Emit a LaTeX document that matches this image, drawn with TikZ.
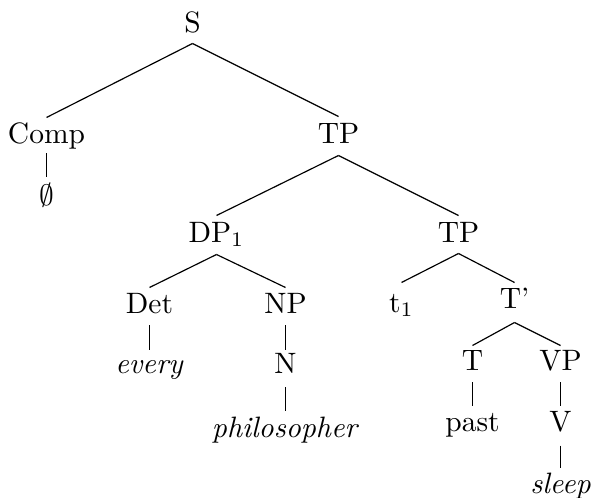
\documentclass[tikz,border=0pt]{standalone}
\usetikzlibrary{calc}
\tikzset{
  lbl/.style={inner sep=0pt, anchor=base},
  branch/.style={draw=black, line width=0.4pt}
}
\newcommand\tedge[4]{\draw[branch] ($(#1.base)+(0,#2)$) -- ($(#3.base)+(0,-#4)$);}
\begin{document}
\begin{tikzpicture}[x=0.339pt, y=-0.339pt]
\useasboundingbox (-0.5,-0.5) rectangle (590.5,497.5);
\node[lbl] (S) at (192,32) {S};
\node[lbl] (Comp) at (46,143) {Comp};
\node[lbl] (TP) at (338,143) {TP};
\node[lbl] (E) at (46,205) {$\emptyset$};
\node[lbl] (DP) at (216,242) {DP$_1$};
\node[lbl] (TPb) at (458,242) {TP};
\node[lbl] (Det) at (149,313) {Det};
\node[lbl] (NP) at (285,313) {NP};
\node[lbl] (t) at (401,312) {t$_1$};
\node[lbl] (Tbar) at (514,308) {T'};
\node[lbl] (every) at (149,373) {\textit{every}};
\node[lbl] (N) at (285,373) {N};
\node[lbl] (T) at (472,370) {T};
\node[lbl] (VP) at (560,370) {VP};
\node[lbl] (phil) at (285,437) {\textit{philosopher}};
\node[lbl] (past) at (472,431) {past};
\node[lbl] (V) at (560,431) {V};
\node[lbl] (sleep) at (560,493) {\textit{sleep}};
\tedge{S}{11}{Comp}{26}
\tedge{S}{11}{TP}{27}
\tedge{Comp}{10}{E}{28}
\tedge{TP}{12}{DP}{27}
\tedge{TP}{12}{TPb}{27}
\tedge{DP}{12}{Det}{26}
\tedge{DP}{12}{NP}{26}
\tedge{TPb}{11}{t}{30}
\tedge{TPb}{11}{Tbar}{26}
\tedge{Det}{12}{every}{23}
\tedge{NP}{12}{N}{23}
\tedge{N}{14}{phil}{27}
\tedge{Tbar}{14}{T}{25}
\tedge{Tbar}{14}{VP}{25}
\tedge{T}{12}{past}{26}
\tedge{VP}{12}{V}{26}
\tedge{V}{14}{sleep}{26}
\end{tikzpicture}
\end{document}
